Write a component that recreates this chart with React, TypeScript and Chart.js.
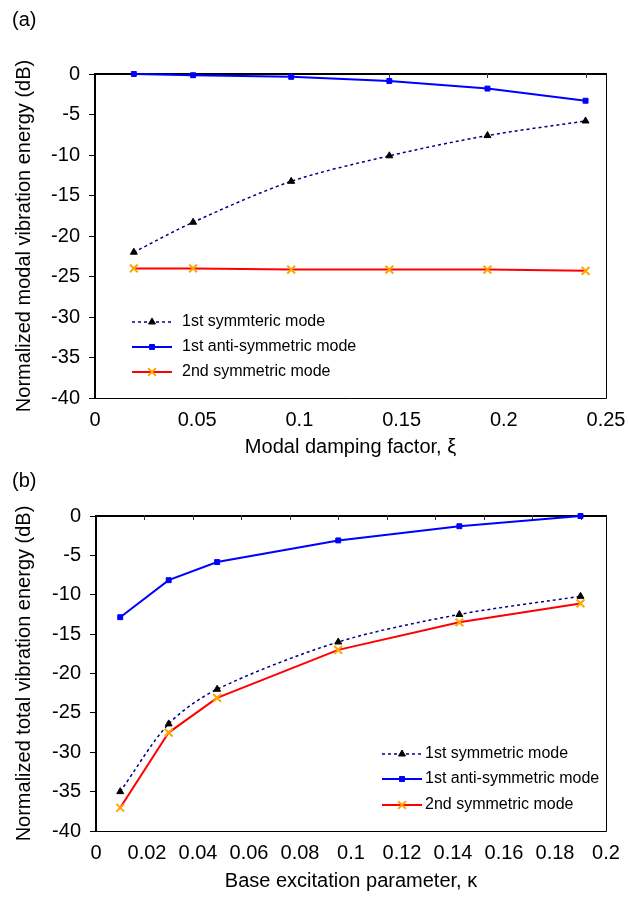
import React, { useEffect, useRef } from 'react';
import { Chart, registerables } from 'chart.js';

Chart.register(...registerables);

// ---------- Data ----------
// Panel (a): modal damping factor
const xiValues = [0.019, 0.048, 0.096, 0.144, 0.192, 0.24];
const aSym1 = [-22.0, -18.3, -13.25, -10.1, -7.6, -5.8];
const aAnti1 = [0, -0.15, -0.35, -0.86, -1.8, -3.3];
const aSym2 = [-24.0, -24.0, -24.15, -24.15, -24.15, -24.3];
const aXTicks = [0, 0.05, 0.1, 0.15, 0.2, 0.25];
const aLegend = ['1st symmteric mode', '1st anti-symmetric mode', '2nd symmetric mode'];

// Panel (b): base excitation parameter
const kappaValues = [0.0095, 0.0285, 0.0475, 0.095, 0.1425, 0.19];
const bSym1 = [-35.0, -26.4, -22.0, -16.0, -12.5, -10.2];
const bAnti1 = [-12.85, -8.15, -5.85, -3.1, -1.3, 0];
const bSym2 = [-37.05, -27.5, -23.1, -17.0, -13.5, -11.1];
const bXTicks = [0, 0.02, 0.04, 0.06, 0.08, 0.1, 0.12, 0.14, 0.16, 0.18, 0.2];
const bLegend = ['1st symmetric mode', '1st anti-symmetric mode', '2nd symmetric mode'];

const yTicks = [-40, -35, -30, -25, -20, -15, -10, -5, 0];

const FONT = "'Liberation Sans', Arial, Helvetica, sans-serif";

function drawMarker(ctx: CanvasRenderingContext2D, style: string, x: number, y: number, r: number, fill: string, stroke: string, lw: number) {
  ctx.save();
  ctx.beginPath();
  if (style === 'triangle') {
    let rad = 0;
    ctx.moveTo(x + Math.sin(rad) * r, y - Math.cos(rad) * r);
    rad += (2 * Math.PI) / 3;
    ctx.lineTo(x + Math.sin(rad) * r, y - Math.cos(rad) * r);
    rad += (2 * Math.PI) / 3;
    ctx.lineTo(x + Math.sin(rad) * r, y - Math.cos(rad) * r);
    ctx.closePath();
    ctx.fillStyle = fill;
    ctx.fill();
    ctx.lineWidth = lw;
    ctx.strokeStyle = stroke;
    ctx.stroke();
  } else if (style === 'rect') {
    const s = Math.SQRT1_2 * r;
    ctx.rect(x - s, y - s, 2 * s, 2 * s);
    ctx.fillStyle = fill;
    ctx.fill();
    ctx.lineWidth = lw;
    ctx.strokeStyle = stroke;
    ctx.stroke();
  } else if (style === 'crossRot') {
    const o = Math.SQRT1_2 * r;
    ctx.moveTo(x - o, y - o);
    ctx.lineTo(x + o, y + o);
    ctx.moveTo(x - o, y + o);
    ctx.lineTo(x + o, y - o);
    ctx.lineWidth = lw;
    ctx.strokeStyle = stroke;
    ctx.stroke();
  }
  ctx.restore();
}

const framePlugin = {
  id: 'frame',
  beforeDatasetsDraw(chart: any, _args: any, opts: any) {
    const { ctx, chartArea } = chart;
    const { left, right, top, bottom } = chartArea;
    ctx.save();
    ctx.strokeStyle = '#000';
    ctx.lineWidth = 1;
    ctx.beginPath();
    ctx.moveTo(left, bottom + 0.5);
    ctx.lineTo(right + 0.5, bottom + 0.5);
    ctx.lineTo(right + 0.5, top);
    ctx.stroke();
    ctx.lineWidth = 2;
    ctx.beginPath();
    ctx.moveTo(left, bottom + 1);
    ctx.lineTo(left, top);
    ctx.lineTo(right + 1, top);
    ctx.stroke();
    const xs = chart.scales.x;
    ctx.lineWidth = 1;
    ctx.strokeStyle = '#333';
    const step = opts.topTickStep;
    for (let k = 1; k * step <= xs.max + 1e-9; k++) {
      const px = Math.round(xs.getPixelForValue(k * step)) + 0.5;
      ctx.beginPath();
      ctx.moveTo(px, top - 1);
      ctx.lineTo(px, top + 4);
      ctx.stroke();
    }
    ctx.restore();
  },
  afterDraw(chart: any, _args: any, opts: any) {
    const { ctx } = chart;
    ctx.save();
    ctx.fillStyle = '#000';
    ctx.font = `20px ${FONT}`;
    ctx.textAlign = 'left';
    ctx.textBaseline = 'middle';
    ctx.fillText(opts.label, opts.labelX, opts.labelY);
    const lg = opts.legend;
    ctx.font = `16px ${FONT}`;
    chart.data.datasets.forEach((ds: any, i: number) => {
      const y = lg.ys[i];
      ctx.save();
      ctx.strokeStyle = ds.borderColor;
      ctx.lineWidth = ds.borderWidth;
      ctx.setLineDash(ds.borderDash || []);
      ctx.beginPath();
      ctx.moveTo(lg.x1, y);
      ctx.lineTo(lg.x2, y);
      ctx.stroke();
      ctx.restore();
      drawMarker(ctx, ds.pointStyle, (lg.x1 + lg.x2) / 2, y, ds.pointRadius, ds.pointBackgroundColor, ds.pointBorderColor, ds.pointBorderWidth);
      ctx.fillStyle = '#000';
      ctx.textAlign = 'left';
      ctx.textBaseline = 'middle';
      ctx.fillText(ds.label, lg.textX, y);
    });
    ctx.restore();
  },
};

function makeDatasets(xs: number[], s1: number[], a1: number[], s2: number[], labels: string[]) {
  const pts = (ys: number[]) => xs.map((x, i) => ({ x, y: ys[i] }));
  return [
    {
      label: labels[0],
      data: pts(s1),
      borderColor: '#000080',
      borderWidth: 1.5,
      borderDash: [3, 3],
      tension: 0.3,
      pointStyle: 'triangle',
      pointRadius: 4,
      pointBackgroundColor: '#000',
      pointBorderColor: '#000',
      pointBorderWidth: 1,
      clip: false,
    },
    {
      label: labels[1],
      data: pts(a1),
      borderColor: '#0000FF',
      borderWidth: 2,
      tension: 0,
      pointStyle: 'rect',
      pointRadius: 3.5,
      pointBackgroundColor: '#0000FF',
      pointBorderColor: '#0000FF',
      pointBorderWidth: 1,
      clip: false,
    },
    {
      label: labels[2],
      data: pts(s2),
      borderColor: '#FF0000',
      borderWidth: 2,
      tension: 0,
      pointStyle: 'crossRot',
      pointRadius: 5.5,
      pointBackgroundColor: '#FFA500',
      pointBorderColor: '#FFA500',
      pointBorderWidth: 2,
      clip: false,
    },
  ];
}

function buildConfig(p: any) {
  return {
    type: 'line',
    data: { datasets: makeDatasets(p.xs, p.s1, p.a1, p.s2, p.labels) },
    options: {
      animation: false,
      responsive: false,
      maintainAspectRatio: false,
      layout: { autoPadding: false, padding: { top: p.padTop, right: 22, left: 0, bottom: 0 } },
      plugins: {
        legend: { display: false },
        title: { display: false },
        tooltip: { enabled: false },
        frame: {
          topTickStep: p.topTickStep,
          label: p.panel,
          labelX: 12,
          labelY: p.panelY,
          legend: p.legend,
        },
      },
      scales: {
        x: {
          type: 'linear',
          min: 0,
          max: p.xMax,
          grid: { display: false, drawTicks: false },
          border: { display: false },
          afterBuildTicks: (s: any) => {
            s.ticks = p.xTicks.map((v: number) => ({ value: v }));
          },
          afterFit: (s: any) => {
            s.height = p.xHeight;
            s.paddingLeft = 0;
            s.paddingRight = 0;
          },
          ticks: {
            padding: 10,
            maxRotation: 0,
            autoSkip: false,
            color: '#000',
            font: { size: 20, family: FONT },
            callback: (v: any) => String(v),
          },
          title: {
            display: true,
            text: p.xTitle,
            color: '#000',
            font: { size: 20, family: FONT },
            padding: { top: 0, bottom: p.xTitlePad },
          },
        },
        y: {
          type: 'linear',
          min: -40,
          max: 0,
          grid: { display: true, drawOnChartArea: false, drawTicks: true, tickLength: 6, color: '#000', lineWidth: 1 },
          border: { display: false },
          afterBuildTicks: (s: any) => {
            s.ticks = yTicks.map((v) => ({ value: v }));
          },
          afterFit: (s: any) => {
            s.width = p.yWidth;
            s.paddingTop = 0;
            s.paddingBottom = 0;
          },
          ticks: {
            padding: 9,
            color: '#000',
            font: { size: 20, family: FONT },
            callback: (v: any) => String(v),
          },
          title: {
            display: true,
            text: p.yTitle,
            color: '#000',
            font: { size: 20, family: FONT },
            padding: { top: 12, bottom: 0 },
          },
        },
      },
    },
    plugins: [framePlugin],
  } as any;
}

export default function App() {
  const refA = useRef<HTMLCanvasElement | null>(null);
  const refB = useRef<HTMLCanvasElement | null>(null);

  useEffect(() => {
    const chartA = new Chart(
      refA.current as HTMLCanvasElement,
      buildConfig({
        xs: xiValues,
        s1: aSym1,
        a1: aAnti1,
        s2: aSym2,
        labels: aLegend,
        xTicks: aXTicks,
        xMax: 0.25,
        topTickStep: 0.048,
        padTop: 74,
        yWidth: 95,
        xHeight: 67,
        xTitlePad: 6,
        xTitle: 'Modal damping factor, \u03BE',
        yTitle: 'Normalized modal vibration energy (dB)',
        panel: '(a)',
        panelY: 20,
        legend: { x1: 132, x2: 172, textX: 182, ys: [322, 347, 372] },
      })
    );
    const chartB = new Chart(
      refB.current as HTMLCanvasElement,
      buildConfig({
        xs: kappaValues,
        s1: bSym1,
        a1: bAnti1,
        s2: bSym2,
        labels: bLegend,
        xTicks: bXTicks,
        xMax: 0.2,
        topTickStep: 0.019,
        padTop: 61,
        yWidth: 96,
        xHeight: 66,
        xTitlePad: 4,
        xTitle: 'Base excitation parameter, \u03BA',
        yTitle: 'Normalized total vibration energy (dB)',
        panel: '(b)',
        panelY: 26,
        legend: { x1: 382, x2: 422, textX: 425, ys: [299, 324, 350] },
      })
    );
    return () => {
      chartA.destroy();
      chartB.destroy();
    };
  }, []);

  return (
    <div style={{ position: 'absolute', left: 0, top: 0, width: 628, height: 897, background: '#fff' }}>
      <canvas ref={refA} width={628} height={465} style={{ position: 'absolute', left: 0, top: 0, width: 628, height: 465 }} />
      <canvas ref={refB} width={628} height={442} style={{ position: 'absolute', left: 0, top: 455, width: 628, height: 442 }} />
    </div>
  );
}
